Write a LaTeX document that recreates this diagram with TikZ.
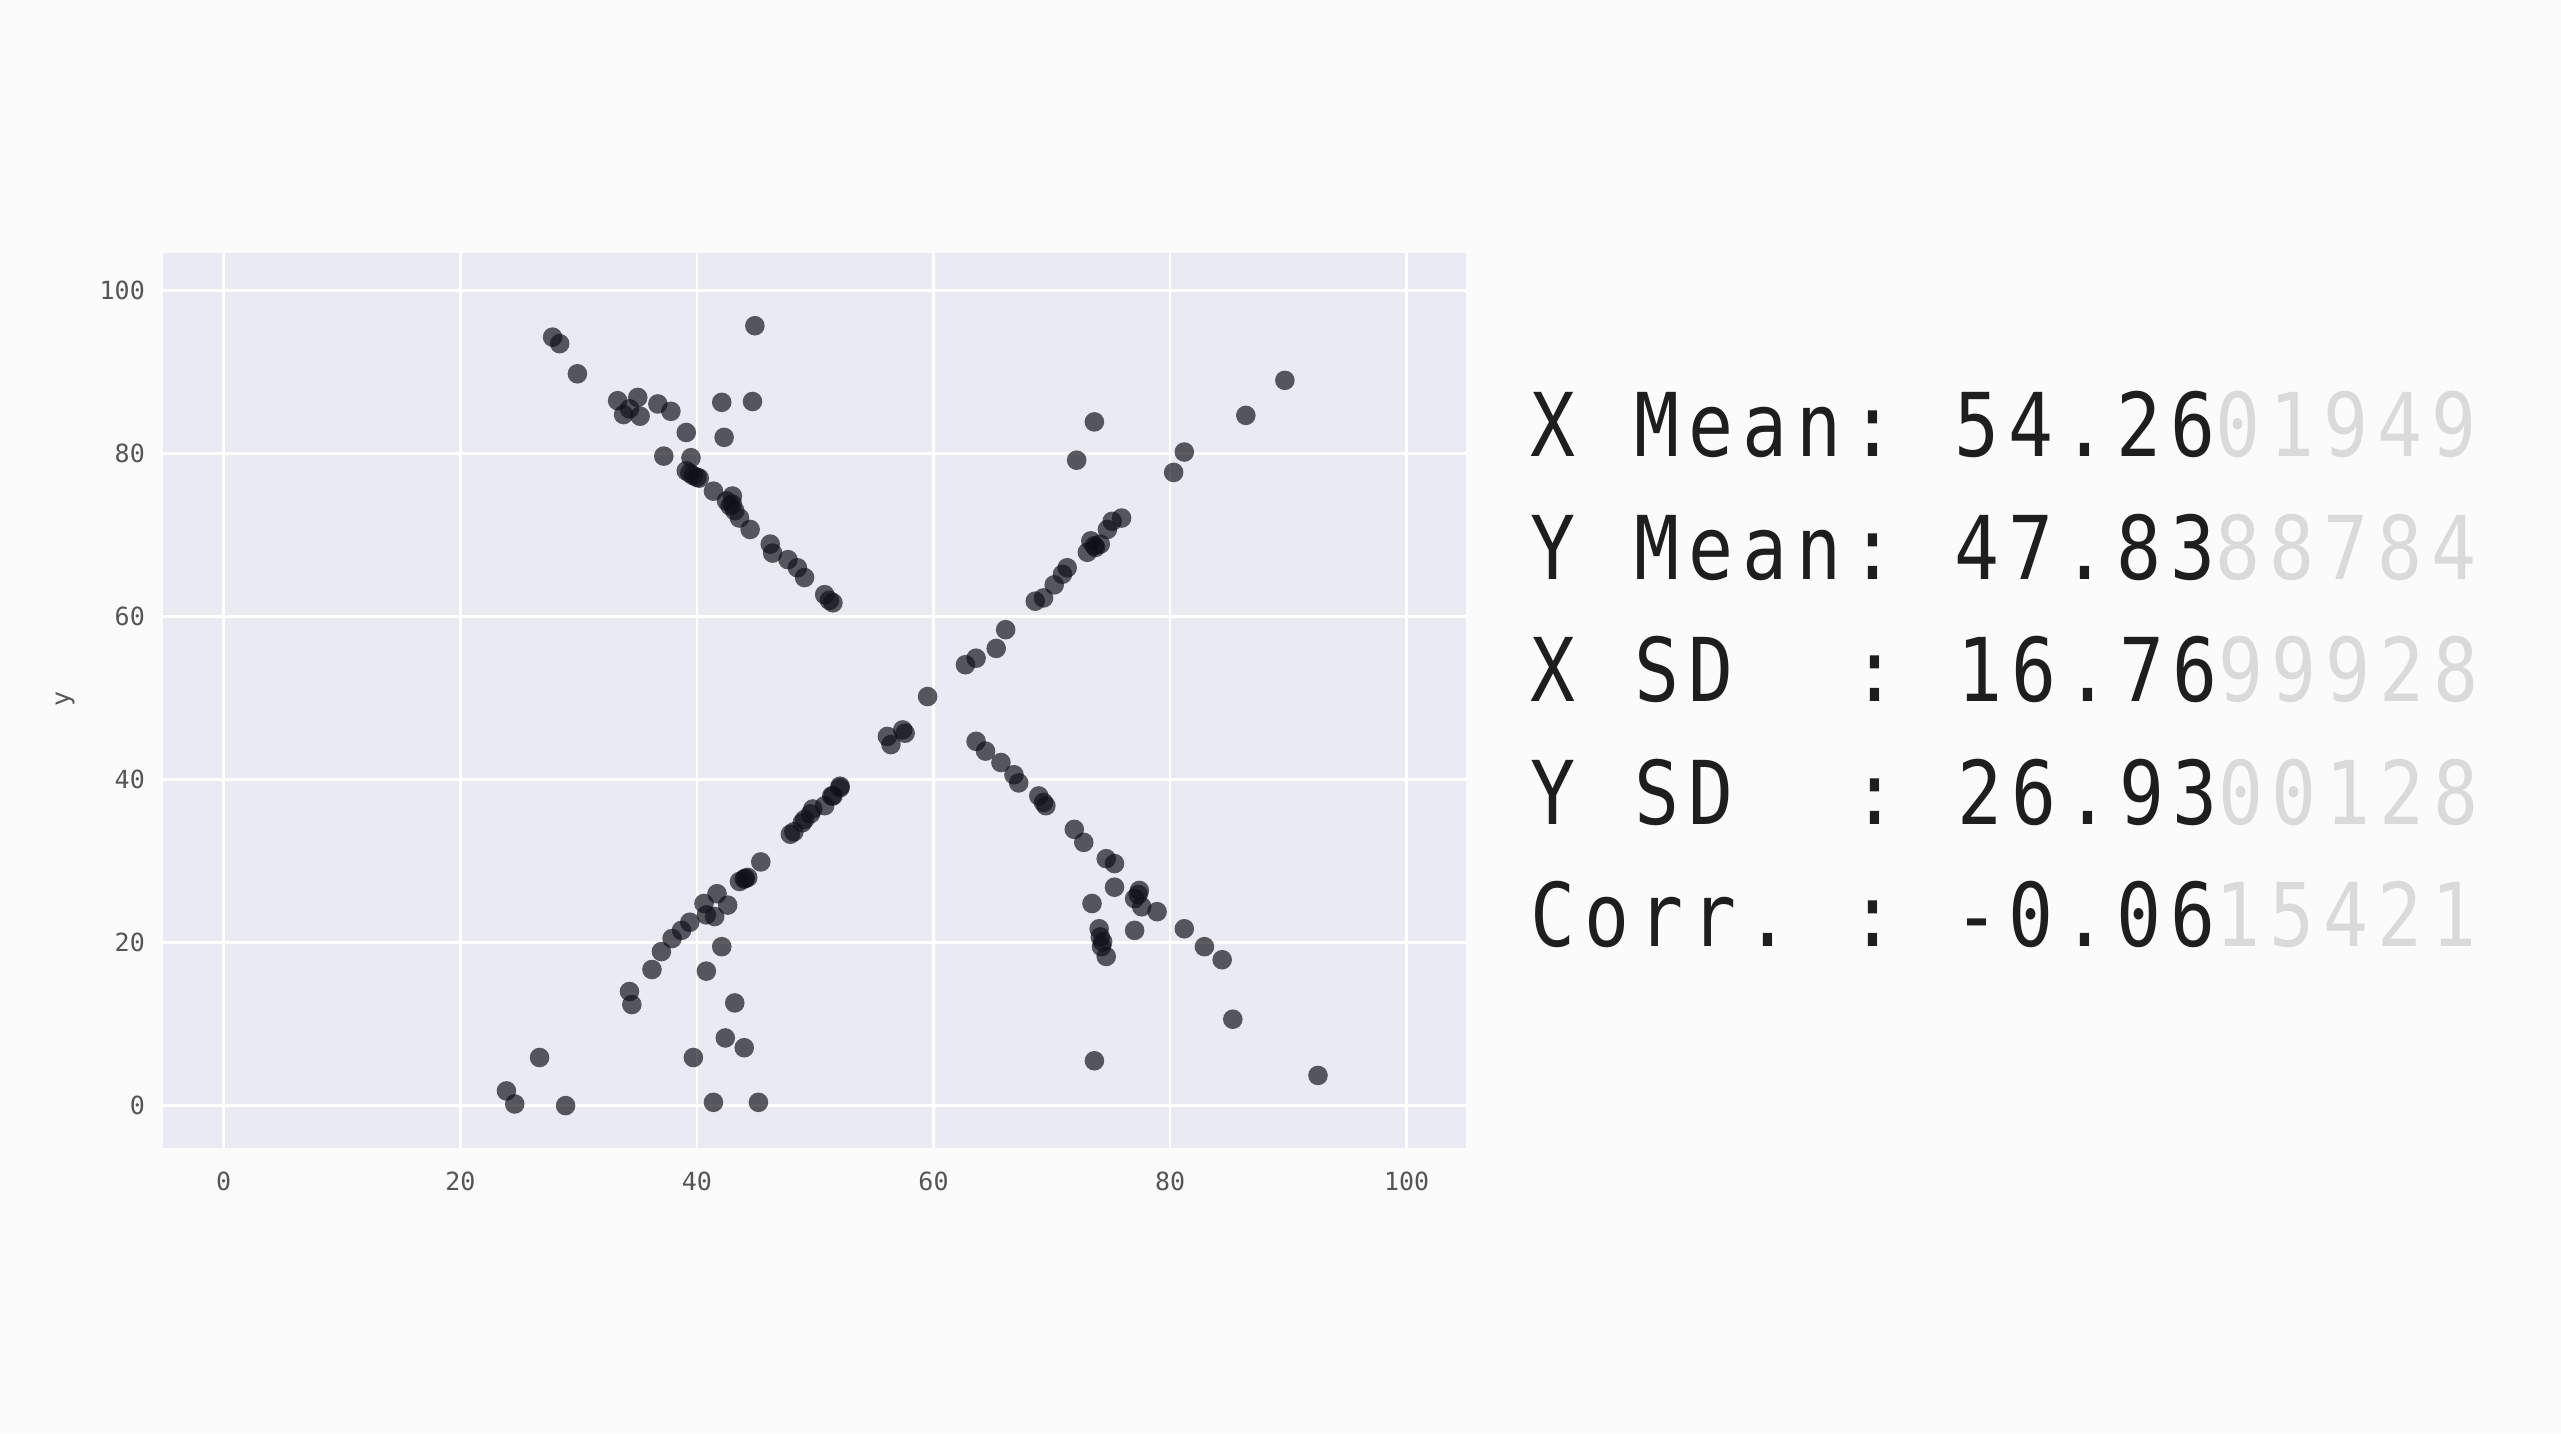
\documentclass[tikz,border=0pt]{standalone}
\usepackage{fontspec}
\setmainfont{DejaVu Sans}
\newfontfamily\statfont{DejaVu Sans Mono}
\newfontfamily\bigfont[FakeStretch=0.85,LetterSpace=10.1]{DejaVu Sans Mono}
\newcommand\ssp{~\kern5.6pt\relax}
\definecolor{bgc}{RGB}{251,251,251}
\definecolor{plotc}{RGB}{234,234,242}
\definecolor{dotc}{RGB}{15,15,25}
\definecolor{tickc}{RGB}{85,85,85}
\definecolor{statc}{RGB}{30,30,30}
\definecolor{greyc}{RGB}{218,218,218}
\begin{document}
\begin{tikzpicture}[x=1pt,y=1pt,
  dot/.style={fill=dotc, fill opacity=0.68, draw=none},
  gridline/.style={draw=white, line width=2.5pt},
  tick/.style={font=\statfont\fontsize{25}{28}\selectfont, text=tickc, inner sep=0pt},
  stat/.style={font=\bigfont\fontsize{88}{100}\selectfont, text=statc, inner sep=0pt, anchor=base west},
]
\fill[bgc] (0,0) rectangle (2561,1433);
\useasboundingbox (0,0) rectangle (2561,1433);
\fill[plotc] (163,285) rectangle (1466,1180);
\begin{scope}[shift={(223.7,327.4)}, x=11.83pt, y=8.149pt]
  \foreach \v in {0,20,...,100} {
    \draw[gridline] (\v,-5.2) -- (\v,104.6);
    \draw[gridline] (-5.13,\v) -- (105.06,\v);
    \node[tick] (xt\v) at (\v,-9.3) {\v};
    \node[tick, anchor=east] (yt\v) at (-6.65,\v) {\v};
  }
  \node[tick, rotate=90] (ylab) at (-13.4,49.9) {y};
  \foreach \a/\b in {
    27.8/94.3,28.4/93.5,29.9/89.8,33.3/86.5,35.0/86.9,33.8/84.8,35.2/84.6,34.3/85.5,
    36.7/86.1,37.8/85.2,39.1/82.6,37.2/79.7,39.5/79.5,39.1/77.9,39.7/77.3,40.2/77.0,
    39.4/77.6,40.0/77.1,
    42.1/86.3,44.7/86.4,42.3/82.0,44.9/95.7,41.4/75.4,42.5/74.2,43.0/74.8,43.2/73.0,
    43.6/72.1,42.8/73.6,43.0/73.8,44.5/70.7,46.2/68.9,46.4/67.8,47.7/67.0,48.5/66.0,49.1/64.8,
    50.8/62.7,51.5/61.7,51.2/62.0,
    89.7/89.0,86.4/84.7,81.2/80.2,80.3/77.7,73.6/83.9,72.1/79.2,75.9/72.1,75.1/71.7,
    74.7/70.7,73.3/69.3,73.7/68.5,73.0/67.9,74.1/68.9,73.6/68.7,71.3/66.0,70.9/65.2,70.2/63.9,
    69.3/62.3,68.6/61.9,66.1/58.4,65.3/56.1,63.6/54.9,62.7/54.1,
    59.5/50.2,57.4/46.1,56.1/45.3,56.4/44.3,57.6/45.7,
    23.9/1.8,24.6/0.2,26.7/5.9,28.9/0.0,34.3/14.0,34.5/12.4,36.2/16.7,37.0/18.9,
    37.9/20.5,38.7/21.5,39.4/22.5,40.6/24.8,41.7/26.0,40.8/23.4,41.5/23.2,42.6/24.6,
    44.0/27.8,43.6/27.5,44.3/28.0,44.1/27.9,45.4/29.9,47.9/33.3,48.2/33.6,48.9/34.7,49.6/35.8,
    50.8/36.8,51.5/38.0,52.1/39.2,52.1/39.0,51.4/38.0,49.8/36.4,49.1/35.1,42.1/19.5,
    40.8/16.5,43.2/12.6,42.4/8.3,44.0/7.1,39.7/5.9,41.4/0.4,45.2/0.4,
    63.6/44.7,64.4/43.5,65.7/42.1,66.8/40.6,67.2/39.6,68.9/38.0,69.5/36.8,69.3/37.2,71.9/33.9,
    72.7/32.3,74.6/30.3,75.3/29.7,75.3/26.8,77.4/26.4,77.0/25.4,77.3/25.9,77.6/24.4,78.9/23.8,
    81.2/21.7,82.9/19.5,84.4/17.9,73.4/24.8,77.0/21.5,74.0/21.7,74.1/20.7,74.2/19.5,74.3/20.1,
    74.6/18.3,85.3/10.6,73.6/5.5,92.5/3.7}
    \fill[dot] (\a,\b) circle[radius=9.8pt];
\end{scope}
\node[stat] (s1) at (1530,976)   {X\ssp Mean:\ssp 54.26\textcolor{greyc}{01949}};
\node[stat] (s2) at (1530,853.5) {Y\ssp Mean:\ssp 47.83\textcolor{greyc}{88784}};
\node[stat] (s3) at (1530,731)   {X\ssp SD\ssp\ssp :\ssp 16.76\textcolor{greyc}{99928}};
\node[stat] (s4) at (1530,608.5) {Y\ssp SD\ssp\ssp :\ssp 26.93\textcolor{greyc}{00128}};
\node[stat] (s5) at (1530,486)   {Corr.\ssp :\ssp -0.06\textcolor{greyc}{15421}};
\end{tikzpicture}
\end{document}
